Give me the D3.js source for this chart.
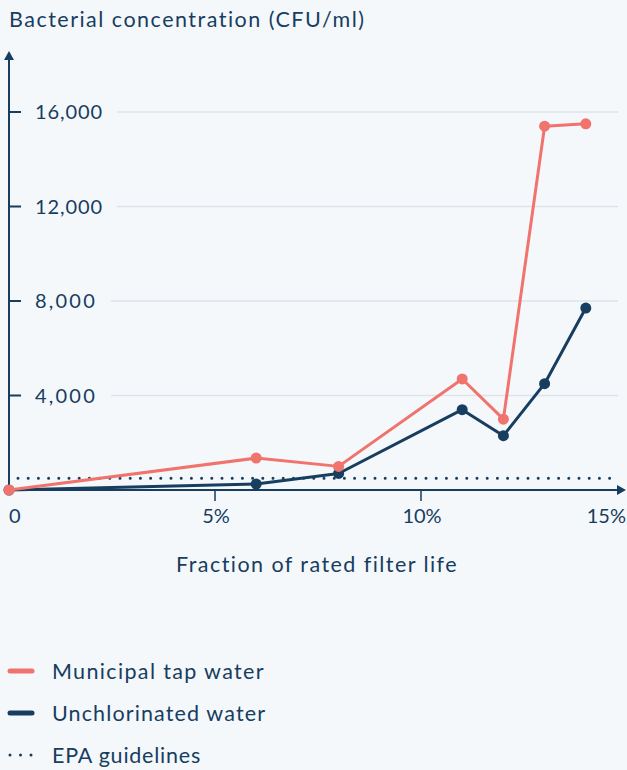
<!DOCTYPE html>
<html>
<head>
<meta charset="utf-8">
<script src="https://cdn.jsdelivr.net/npm/d3@7"></script>
<style>
  html, body { margin: 0; padding: 0; background: #f4f8fb; }
  svg { display: block; }
  text { font-family: Lato, "Open Sans", sans-serif; fill: #173d5f; }
</style>
</head>
<body>
<svg id="chart" width="627" height="770"></svg>
<script>
// ---- data ----
const fractionPct = [0, 6, 8, 11, 12, 13, 14];
const municipal = [0, 1350, 1000, 4700, 3000, 15400, 15500];
const unchlorinated = [0, 250, 700, 3400, 2300, 4500, 7700];
const epaGuideline = 500;
const yTicks = [4000, 8000, 12000, 16000];
const xTicks = [0, 5, 10, 15];
const xTickLabels = ["0", "5%", "10%", "15%"];
const seriesNames = ["Municipal tap water", "Unchlorinated water", "EPA guidelines"];

// ---- styles ----
const NAVY = "#173d5f";
const CORAL = "#f0736d";
const GRID = "#dde3ea";

const svg = d3.select("#chart");
const x = d3.scaleLinear().domain([0, 15]).range([9, 627]);
const y = d3.scaleLinear().domain([0, 16000]).range([490, 112]);

function fit(sel, w) {
  sel.each(function () {
    const t = d3.select(this);
    const n = t.text().length;
    const nat = this.getComputedTextLength();
    const ls = (w - nat) / Math.max(1, n);
    t.attr("letter-spacing", ls.toFixed(2));
  });
}

// title
svg.append("text").attr("x", 9).attr("y", 27).attr("font-size", 21.5)
  .text("Bacterial concentration (CFU/ml)").call(fit, 357);

// gridlines + y tick labels
const yg = svg.append("g");
yTicks.forEach(v => {
  const w = v >= 10000 ? 68 : 62;
  const lbl = yg.append("text").attr("x", 35).attr("y", y(v) + 7).attr("font-size", 20)
    .text(d3.format(",")(v));
  fit(lbl, w);
  const end = 35 + w + 14;
  yg.append("line").attr("x1", end).attr("x2", 618).attr("y1", y(v)).attr("y2", y(v))
    .attr("stroke", GRID).attr("stroke-width", 1.5);
  yg.append("line").attr("x1", 9).attr("x2", 21).attr("y1", y(v)).attr("y2", y(v))
    .attr("stroke", NAVY).attr("stroke-width", 2);
});

// EPA dotted line
svg.append("line").attr("x1", 18).attr("x2", 618)
  .attr("y1", y(epaGuideline)).attr("y2", y(epaGuideline))
  .attr("stroke", NAVY).attr("stroke-width", 3).attr("stroke-linecap", "round")
  .attr("stroke-dasharray", "0 10.2");

// axes
svg.append("line").attr("x1", 9).attr("x2", 9).attr("y1", 490).attr("y2", 58)
  .attr("stroke", NAVY).attr("stroke-width", 2);
svg.append("path").attr("d", "M9,51 L14,60 L4,60 Z").attr("fill", NAVY);
svg.append("line").attr("x1", 9).attr("x2", 619).attr("y1", 490).attr("y2", 490)
  .attr("stroke", NAVY).attr("stroke-width", 2);
svg.append("path").attr("d", "M626,490 L617,485 L617,495 Z").attr("fill", NAVY);

// x ticks
xTicks.forEach((v, i) => {
  if (i > 0 && i < xTicks.length - 1) {
    svg.append("line").attr("x1", x(v)).attr("x2", x(v)).attr("y1", 490).attr("y2", 501)
      .attr("stroke", NAVY).attr("stroke-width", 1.5);
  }
  const anchor = i === 0 ? "start" : (i === xTicks.length - 1 ? "end" : "middle");
  const xx = i === 0 ? x(v) : (i === xTicks.length - 1 ? x(v) - 1 : x(v) + 1);
  svg.append("text").attr("x", xx).attr("y", 523).attr("font-size", 20)
    .attr("text-anchor", anchor).text(xTickLabels[i]);
});

// x title
svg.append("text").attr("x", 317).attr("y", 572).attr("font-size", 21.5)
  .attr("text-anchor", "middle").text("Fraction of rated filter life").call(fit, 282);

// lines
const line = d3.line().x((d, i) => x(fractionPct[i])).y(d => y(d));
[[unchlorinated, NAVY], [municipal, CORAL]].forEach(([vals, col]) => {
  svg.append("path").attr("d", line(vals)).attr("fill", "none")
    .attr("stroke", col).attr("stroke-width", 3).attr("stroke-linejoin", "round");
  svg.selectAll(null).data(vals).enter().append("circle")
    .attr("cx", (d, i) => x(fractionPct[i])).attr("cy", d => y(d)).attr("r", 5.5)
    .attr("fill", col);
});

// legend
const legY = [671, 713, 755];
const legW = [213, 214, 149];
const legCols = [CORAL, NAVY, NAVY];
seriesNames.forEach((name, i) => {
  if (i < 2) {
    svg.append("line").attr("x1", 10).attr("x2", 32).attr("y1", legY[i]).attr("y2", legY[i])
      .attr("stroke", legCols[i]).attr("stroke-width", 5).attr("stroke-linecap", "round");
  } else {
    svg.append("line").attr("x1", 10).attr("x2", 32).attr("y1", legY[i]).attr("y2", legY[i])
      .attr("stroke", NAVY).attr("stroke-width", 3).attr("stroke-linecap", "round")
      .attr("stroke-dasharray", "0 10.5");
  }
  svg.append("text").attr("x", 52).attr("y", legY[i] + 7.5).attr("font-size", 21.5)
    .text(name).call(fit, legW[i]);
});
</script>
</body>
</html>
